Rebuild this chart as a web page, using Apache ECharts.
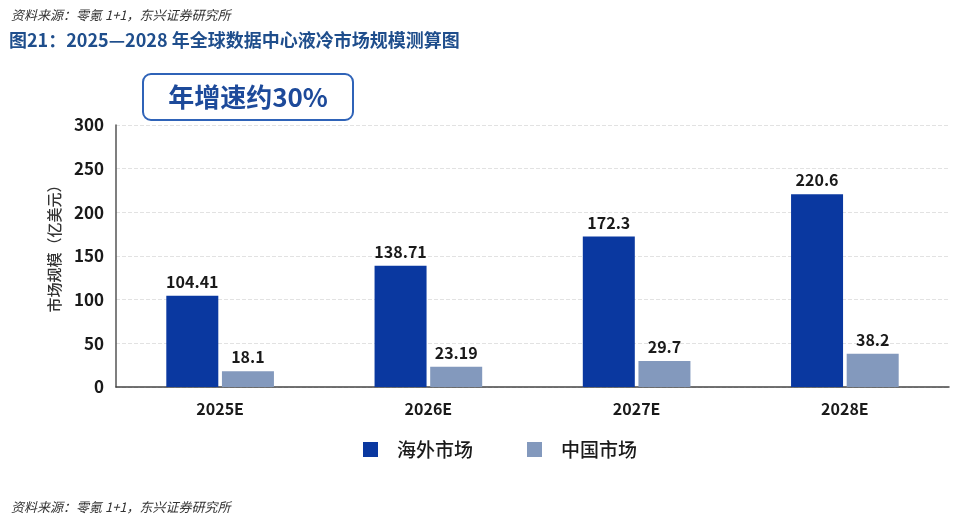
<!DOCTYPE html>
<html lang="zh-CN">
<head>
    <meta charset="UTF-8">
    <title>全球数据中心液冷市场规模测算</title>
    <script src="https://cdn.jsdelivr.net/npm/echarts@6/dist/echarts.min.js"></script>
    <style>
        html, body { margin: 0; padding: 0; background: #fff; }
        #main { width: 962px; height: 519px; }
    </style>
</head>
<body>
<div id="main"></div>
<script type="text/javascript">
    // 数据
    var years = ['2025E', '2026E', '2027E', '2028E'];
    var overseas = [104.41, 138.71, 172.3, 220.6];
    var china = [18.1, 23.19, 29.7, 38.2];
    var seriesNames = ['海外市场', '中国市场'];

    var cjk = '"Noto Sans CJK SC", "Noto Sans", sans-serif';
    var myChart = echarts.init(document.getElementById('main'));

    var labelStyle = {
        show: true,
        position: 'top',
        distance: 6,
        color: '#1a1a1a',
        fontSize: 16,
        fontWeight: 'bold',
        fontFamily: cjk
    };

    var option = {
        backgroundColor: '#fff',
        animation: false,
        title: [
            {
                text: '资料来源：零氪 1+1，东兴证券研究所',
                left: 6, top: 4,
                textStyle: { fontSize: 13, fontStyle: 'italic', fontWeight: 'normal', color: '#333', fontFamily: cjk }
            },
            {
                text: '图21：2025—2028 年全球数据中心液冷市场规模测算图',
                left: 4, top: 26,
                textStyle: { fontSize: 18, fontWeight: 'bold', color: '#1f4e8c', fontFamily: cjk }
            },
            {
                text: '资料来源：零氪 1+1，东兴证券研究所',
                left: 6, top: 496,
                textStyle: { fontSize: 13, fontStyle: 'italic', fontWeight: 'normal', color: '#333', fontFamily: cjk }
            }
        ],
        graphic: [
            {
                type: 'rect',
                shape: { x: 143, y: 74, width: 210, height: 46, r: 8 },
                style: { fill: '#fff', stroke: '#2f63b8', lineWidth: 2 }
            },
            {
                type: 'text',
                x: 248, y: 97,
                style: {
                    text: '年增速约30%', fontSize: 26, fontWeight: 'bold', fill: '#1d4a9a',
                    fontFamily: cjk, align: 'center', verticalAlign: 'middle'
                }
            }
        ],
        legend: {
            bottom: 55,
            left: 358,
            itemWidth: 15,
            itemHeight: 15,
            itemGap: 54,
            icon: 'rect',
            textStyle: { fontSize: 19, color: '#1a1a1a', fontWeight: 500, fontFamily: cjk, padding: [0, 0, 0, 14] },
            data: seriesNames
        },
        grid: {
            left: 116,
            right: 13,
            top: 125,
            bottom: 132
        },
        xAxis: {
            type: 'category',
            data: years,
            axisLine: { lineStyle: { color: '#444', width: 1.5 } },
            axisTick: { show: false },
            axisLabel: { color: '#1a1a1a', fontSize: 16, fontWeight: 'bold', margin: 14, fontFamily: cjk }
        },
        yAxis: {
            type: 'value',
            min: 0,
            max: 300,
            interval: 50,
            name: '市场规模（亿美元）',
            nameLocation: 'middle',
            nameGap: 54,
            nameTextStyle: { fontSize: 15, color: '#333', fontWeight: 500, fontFamily: cjk, padding: [0, 0, 0, 22] },
            axisLine: { show: true, lineStyle: { color: '#555', width: 1.5 } },
            axisTick: { show: false },
            axisLabel: { color: '#1a1a1a', fontSize: 17, fontWeight: 'bold', margin: 12, fontFamily: cjk },
            splitLine: { lineStyle: { color: '#e2e2e2', type: 'dashed' } }
        },
        series: [
            {
                name: seriesNames[0],
                type: 'bar',
                data: overseas,
                barWidth: 52,
                barGap: '7%',
                itemStyle: { color: '#0a38a0' },
                label: labelStyle
            },
            {
                name: seriesNames[1],
                type: 'bar',
                data: china,
                barWidth: 52,
                barGap: '7%',
                itemStyle: { color: '#8399bd' },
                label: labelStyle
            }
        ]
    };

    option && myChart.setOption(option);
</script>
</body>
</html>
